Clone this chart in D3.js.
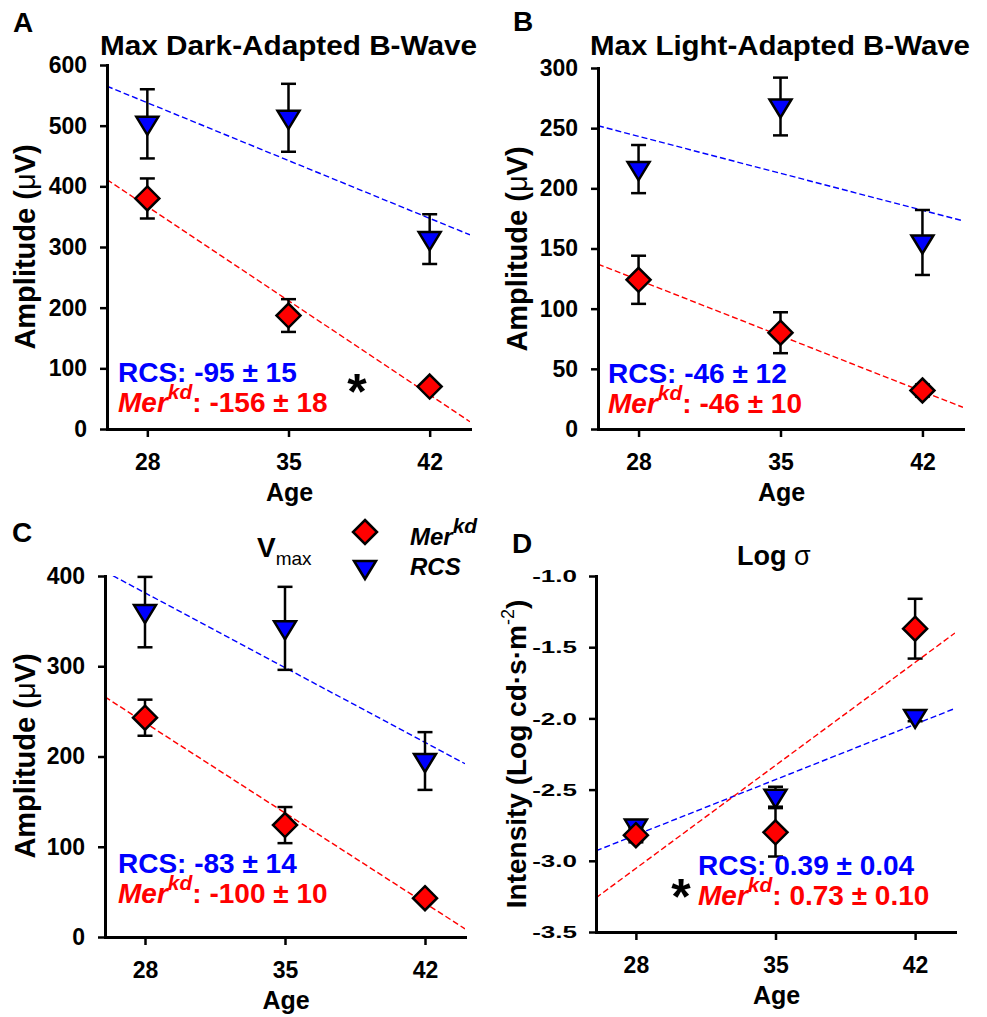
<!DOCTYPE html>
<html>
<head>
<meta charset="utf-8">
<script src="https://cdnjs.cloudflare.com/ajax/libs/d3/7.8.5/d3.min.js"></script>
<style>
  body { margin: 0; background: #fff; }
  svg text { font-family: "Liberation Sans", Arial, sans-serif; font-weight: bold; }
</style>
</head>
<body>
<div id="chart"></div>
<script>
'use strict';

var ageTicks = [28, 35, 42];
var ages = [28, 35, 42];

// A - max dark-adapted b-wave (uV)
var darkRcs = [503, 513, 313];
var darkRcsErr = [57, 56, 41];
var darkMer = [380, 187, 70];
var darkMerErr = [33, 27, 6];
var darkRcsFit = [[26, 565], [44, 320]];
var darkMerFit = [[26, 411], [44, 12]];
var darkTicks = [0, 100, 200, 300, 400, 500, 600];

// B - max light-adapted b-wave (uV)
var lightRcs = [216, 268, 155];
var lightRcsErr = [20, 24, 27];
var lightMer = [124, 80, 32];
var lightMerErr = [20, 17, 5];
var lightRcsFit = [[26, 252], [44, 173]];
var lightMerFit = [[26, 137], [44, 18]];
var lightTicks = [0, 50, 100, 150, 200, 250, 300];

// C - Vmax (uV)
var vmaxRcs = [360, 342, 195];
var vmaxRcsErr = [39, 46, 32];
var vmaxMer = [243, 124, 43];
var vmaxMerErr = [20, 20, 5];
var vmaxRcsFit = [[26, 405], [44, 192]];
var vmaxMerFit = [[26, 266], [44, 9]];
var vmaxTicks = [0, 100, 200, 300, 400];

// D - log sigma (log cd s m-2)
var sigmaRcs = [-2.76, -2.55, -1.99];
var sigmaRcsErr = [0.04, 0.07, 0.03];
var sigmaMer = [-2.82, -2.80, -1.37];
var sigmaMerErr = [0.05, 0.17, 0.21];
var sigmaRcsFit = [[26, -2.93], [44, -1.93]];
var sigmaMerFit = [[26, -3.26], [44, -1.40]];
var sigmaTicks = [-3.5, -3.0, -2.5, -2.0, -1.5, -1.0];

var BLUE = "#0000ff", RED = "#ff0000";
var DIAMOND = "M0,-12L12,0L0,12L-12,0Z";
var TRIANGLE = "M-11,-7L11,-7L0,11Z";

var svg = d3.select("#chart").append("svg")
    .attr("width", 987)
    .attr("height", 1017);

var panels = [
    {id: "A", x0: 107, x1: 470, top: 65, bottom: 429, yDom: [0, 600], ticks: darkTicks, fmt: d3.format("d"),
     rcs: darkRcs, rcsErr: darkRcsErr, mer: darkMer, merErr: darkMerErr, rcsFit: darkRcsFit, merFit: darkMerFit,
     rcsTxt: "RCS: -95 \u00b1 15", merTxt: ": -156 \u00b1 18", statX: 118, statY: 382, star: [357, 409]},
    {id: "B", x0: 598, x1: 963, top: 68, bottom: 429, yDom: [0, 300], ticks: lightTicks, fmt: d3.format("d"),
     rcs: lightRcs, rcsErr: lightRcsErr, mer: lightMer, merErr: lightMerErr, rcsFit: lightRcsFit, merFit: lightMerFit,
     rcsTxt: "RCS: -46 \u00b1 12", merTxt: ": -46 \u00b1 10", statX: 608, statY: 383},
    {id: "C", x0: 105, x1: 465, top: 576, bottom: 937, yDom: [0, 400], ticks: vmaxTicks, fmt: d3.format("d"),
     rcs: vmaxRcs, rcsErr: vmaxRcsErr, mer: vmaxMer, merErr: vmaxMerErr, rcsFit: vmaxRcsFit, merFit: vmaxMerFit,
     rcsTxt: "RCS: -83 \u00b1 14", merTxt: ": -100 \u00b1 10", statX: 118, statY: 873},
    {id: "D", x0: 596, x1: 955, top: 576, bottom: 932, yDom: [-3.5, -1.0], ticks: sigmaTicks,
     fmt: function(d) { return d.toFixed(1); }, squash: true,
     rcs: sigmaRcs, rcsErr: sigmaRcsErr, mer: sigmaMer, merErr: sigmaMerErr, rcsFit: sigmaRcsFit, merFit: sigmaMerFit,
     rcsTxt: "RCS: 0.39 \u00b1 0.04", merTxt: ": 0.73 \u00b1 0.10", statX: 698, statY: 875, star: [681, 914]}
];

panels.forEach(function(p) {
    var x = d3.scaleLinear().domain([26, 44]).range([p.x0, p.x1]);
    var y = d3.scaleLinear().domain(p.yDom).range([p.bottom, p.top]);
    var g = svg.append("g");

    g.append("clipPath").attr("id", "clip" + p.id)
        .append("rect").attr("x", p.x0).attr("y", p.top)
        .attr("width", p.x1 - p.x0).attr("height", p.bottom - p.top);

    // fitted lines
    var line = d3.line().x(function(d) { return x(d[0]); }).y(function(d) { return y(d[1]); });
    [[p.rcsFit, BLUE], [p.merFit, RED]].forEach(function(f) {
        g.append("path").datum(f[0])
            .attr("d", line)
            .attr("clip-path", "url(#clip" + p.id + ")")
            .attr("fill", "none")
            .attr("stroke", f[1])
            .attr("stroke-width", 1.4)
            .attr("stroke-dasharray", "6,3");
    });

    // axes
    var ya = g.append("g").attr("transform", "translate(" + p.x0 + ",0)")
        .call(d3.axisLeft(y).tickValues(p.ticks).tickFormat(p.fmt).tickSize(7).tickSizeOuter(0).tickPadding(13));
    var xa = g.append("g").attr("transform", "translate(0," + p.bottom + ")")
        .call(d3.axisBottom(x).tickValues(ageTicks).tickSize(8).tickSizeOuter(0).tickPadding(17));
    [ya, xa].forEach(function(a) {
        a.select(".domain").attr("stroke-width", 3).attr("stroke-linecap", "square");
        a.selectAll(".tick line").attr("stroke-width", 2.5);
        a.selectAll("text").attr("font-size", 23).attr("fill", "#000");
    });
    if (p.squash) {
        // the reference's tick labels here are stretched wide and flat
        ya.selectAll(".tick text")
            .attr("font-size", 20)
            .attr("x", null)
            .attr("dy", "0.36em")
            .attr("transform", "translate(-19,0) scale(1.3,0.78)");
    }

    g.append("text").attr("x", (p.x0 + p.x1) / 2 + 1).attr("y", p.bottom + 72)
        .attr("text-anchor", "middle").attr("font-size", 25).text("Age");

    // error bars
    function bars(vals, errs) {
        var eb = g.append("g").attr("stroke", "#000").attr("stroke-width", 2.5).attr("fill", "none");
        ages.forEach(function(a, i) {
            var cx = x(a), yt = y(vals[i] + errs[i]), yb = y(vals[i] - errs[i]);
            eb.append("line").attr("x1", cx).attr("x2", cx).attr("y1", yt).attr("y2", yb);
            eb.append("line").attr("x1", cx - 7.5).attr("x2", cx + 7.5).attr("y1", yt).attr("y2", yt);
            eb.append("line").attr("x1", cx - 7.5).attr("x2", cx + 7.5).attr("y1", yb).attr("y2", yb);
        });
    }
    bars(p.rcs, p.rcsErr);
    bars(p.mer, p.merErr);

    g.selectAll(".tri").data(p.rcs).enter().append("path")
        .attr("d", TRIANGLE)
        .attr("transform", function(d, i) { return "translate(" + x(ages[i]) + "," + y(d) + ")"; })
        .attr("fill", BLUE).attr("stroke", "#000").attr("stroke-width", 2.5);
    g.selectAll(".dia").data(p.mer).enter().append("path")
        .attr("d", DIAMOND)
        .attr("transform", function(d, i) { return "translate(" + x(ages[i]) + "," + y(d) + ")"; })
        .attr("fill", RED).attr("stroke", "#000").attr("stroke-width", 2.5);

    // slope stats
    g.append("text").attr("x", p.statX).attr("y", p.statY).attr("font-size", 28)
        .attr("fill", BLUE).text(p.rcsTxt);
    var mt = g.append("text").attr("x", p.statX).attr("y", p.statY + 30).attr("font-size", 28).attr("fill", RED);
    mt.append("tspan").attr("font-style", "italic").text("Mer");
    mt.append("tspan").attr("font-style", "italic").attr("font-size", 21).attr("dy", -13).text("kd");
    mt.append("tspan").attr("dy", 13).text(p.merTxt);

    if (p.star) {
        g.append("text").attr("x", p.star[0]).attr("y", p.star[1]).attr("text-anchor", "middle")
            .attr("font-size", 50).attr("font-weight", "normal").text("*");
    }
});

// panel letters
[["A", 13, 32], ["B", 513, 31], ["C", 12, 542], ["D", 512, 553]].forEach(function(l) {
    svg.append("text").attr("x", l[1]).attr("y", l[2]).attr("font-size", 28).text(l[0]);
});

// titles
svg.append("text").attr("x", 100).attr("y", 55).attr("font-size", 28)
    .attr("textLength", 377).attr("lengthAdjust", "spacingAndGlyphs").text("Max Dark-Adapted B-Wave");
svg.append("text").attr("x", 590).attr("y", 55).attr("font-size", 28)
    .attr("textLength", 380).attr("lengthAdjust", "spacingAndGlyphs").text("Max Light-Adapted B-Wave");
var vt = svg.append("text").attr("x", 257).attr("y", 557).attr("font-size", 28);
vt.append("tspan").text("V");
vt.append("tspan").attr("font-size", 19).attr("font-weight", "normal").attr("dy", 8).text("max");
var lt = svg.append("text").attr("x", 737).attr("y", 565).attr("font-size", 27);
lt.append("tspan").text("Log ");
lt.append("tspan").attr("font-weight", "normal").text("\u03c3");

// y labels
function ylab(cx, cy) {
    return svg.append("text").attr("transform", "translate(" + cx + "," + cy + ") rotate(-90)")
        .attr("text-anchor", "middle").attr("font-size", 29);
}
[[35, 247], [527, 249], [35, 756]].forEach(function(c) {
    var t = ylab(c[0], c[1]);
    t.append("tspan").text("Amplitude (");
    t.append("tspan").attr("font-weight", "normal").text("\u03bc");
    t.append("tspan").text("V)");
});
var it = ylab(526, 754).attr("font-size", 28);
it.append("tspan").text("Intensity (Log cd\u00b7s\u00b7m");
it.append("tspan").attr("font-size", 18).attr("font-weight", "normal").attr("dy", -12).text("-2");
it.append("tspan").attr("dy", 12).text(")");

// legend
svg.append("path").attr("d", DIAMOND).attr("transform", "translate(365,532)")
    .attr("fill", RED).attr("stroke", "#000").attr("stroke-width", 2.5);
svg.append("path").attr("d", TRIANGLE).attr("transform", "translate(365,568)")
    .attr("fill", BLUE).attr("stroke", "#000").attr("stroke-width", 2.5);
var lm = svg.append("text").attr("x", 410).attr("y", 545).attr("font-size", 24).attr("font-style", "italic");
lm.append("tspan").text("Mer");
lm.append("tspan").attr("font-size", 21).attr("dy", -12).text("kd");
svg.append("text").attr("x", 410).attr("y", 575).attr("font-size", 24).attr("font-style", "italic").text("RCS");
</script>
</body>
</html>
